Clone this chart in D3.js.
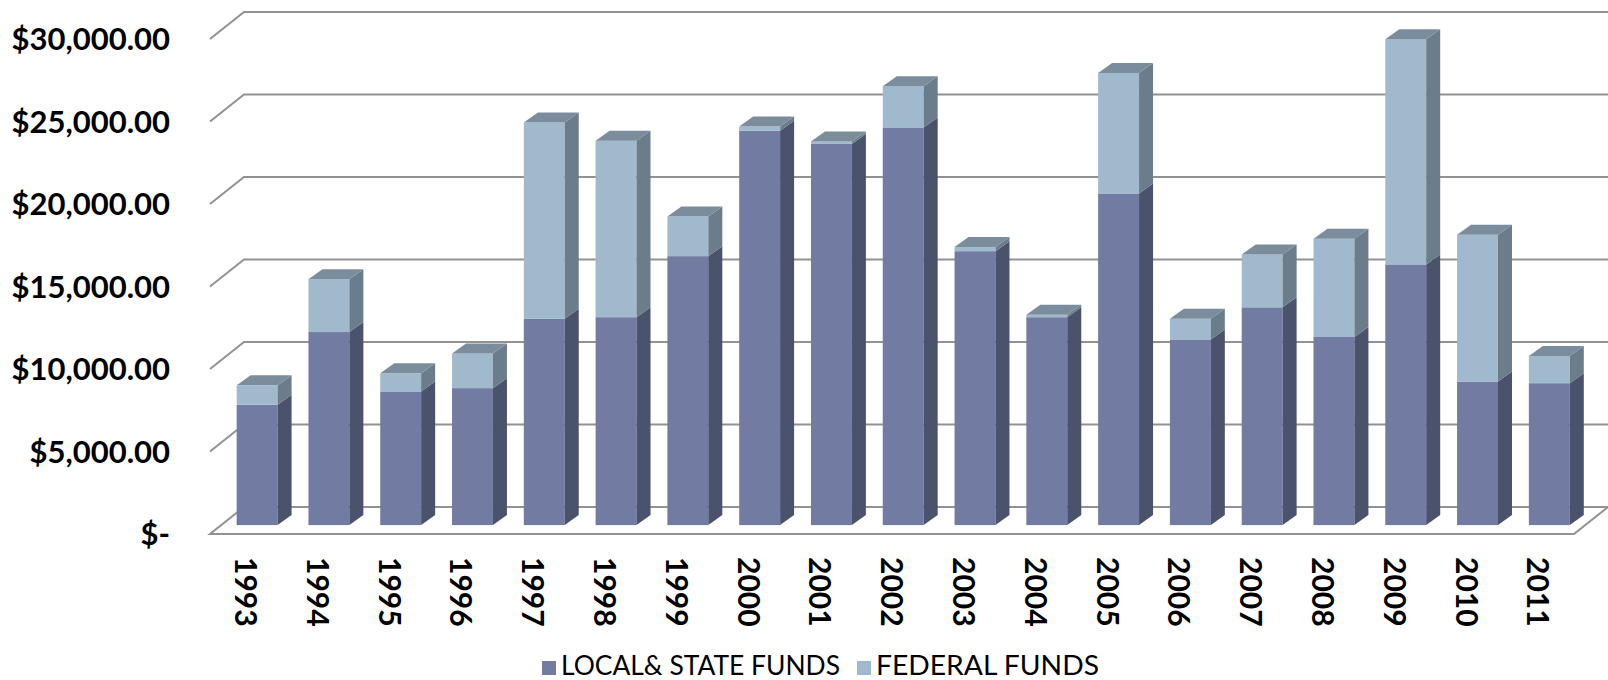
<!DOCTYPE html>
<html>
<head>
<meta charset="utf-8">
<script src="https://cdn.jsdelivr.net/npm/d3@7"></script>
<style>
  html, body { margin: 0; padding: 0; background: #fff; }
  svg { display: block; }
</style>
</head>
<body>
<svg id="chart" width="1608" height="680"></svg>
<script>
const years = ['1993','1994','1995','1996','1997','1998','1999','2000','2001','2002','2003','2004','2005','2006','2007','2008','2009','2010','2011'];
const localFunds = [7300, 11700, 8100, 8300, 12500, 12600, 16300, 23900, 23100, 24100, 16600, 12600, 20100, 11250, 13200, 11400, 15800, 8700, 8600];
const federalFunds = [1170, 3200, 1100, 2100, 11900, 10700, 2400, 250, 150, 2500, 250, 150, 7300, 1250, 3200, 5950, 13650, 8900, 1650];
const yTicks = [0, 5000, 10000, 15000, 20000, 25000, 30000];
const seriesNames = ['LOCAL& STATE FUNDS', 'FEDERAL FUNDS'];

const svg = d3.select('#chart');

// 3D geometry
const floorFrontY = 534, DX = 34, DY = 27;
const barDepthFrac = 0.33, barDX = 14, barDY = 10;
const h = d3.scaleLinear().domain([0, 30000]).range([0, 495]);
const x = d3.scaleBand().domain(years).range([210, 1574]).paddingInner(0.43).paddingOuter(0.215);
const bw = x.bandwidth();

const colors = {
  localFront: '#727BA1', localSide: '#4B526B',
  fedFront: '#A1B9CD', fedSide: '#6B7D8A',
  top: '#7B8D9C', grid: '#929292'
};

const backY = v => floorFrontY - DY - h(v);
const frontY = v => floorFrontY - h(v);

// floor
const floorL = x.range()[0], floorR = x.range()[1];
svg.append('path')
  .attr('d', `M${floorL},${floorFrontY} L${floorR},${floorFrontY} L${floorR + DX},${floorFrontY - DY} L${floorL + DX},${floorFrontY - DY} Z`)
  .attr('fill', '#fff').attr('stroke', colors.grid).attr('stroke-width', 2);

// back wall gridlines
const grid = svg.append('g');
yTicks.filter(t => t > 0).forEach(t => {
  grid.append('path')
    .attr('d', `M${floorL},${frontY(t)} L${floorL + DX},${backY(t)} L${floorR + DX + 40},${backY(t)}`)
    .attr('fill', 'none').attr('stroke', colors.grid).attr('stroke-width', 2);
});

// y labels
const fmt = v => v === 0 ? '$-' : '$' + d3.format(',.2f')(v);
svg.append('g').selectAll('text').data(yTicks).join('text')
  .attr('x', 170).attr('y', d => frontY(d)).attr('dy', '0.36em')
  .attr('text-anchor', 'end')
  .attr('font-family', 'Lato, "DejaVu Sans", sans-serif')
  .attr('font-weight', 700).attr('font-size', 31)
  .attr('fill', '#000')
  .text(fmt);

// bars
const base = floorFrontY - DY * barDepthFrac;
const xOff = DX * barDepthFrac;
const bars = svg.append('g');
function segment(xl, v0, v1, front, side) {
  const xr = xl + bw;
  const y0 = base - h(v0), y1 = base - h(v1);
  bars.append('rect').attr('x', xl).attr('y', y1).attr('width', bw).attr('height', Math.max(0, y0 - y1)).attr('fill', front);
  bars.append('path')
    .attr('d', `M${xr},${y0} L${xr + barDX},${y0 - barDY} L${xr + barDX},${y1 - barDY} L${xr},${y1} Z`)
    .attr('fill', side);
}
years.forEach((yr, i) => {
  const xl = x(yr) + xOff;
  const l = localFunds[i], f = federalFunds[i], t = l + f;
  segment(xl, 0, l, colors.localFront, colors.localSide);
  segment(xl, l, t, colors.fedFront, colors.fedSide);
  const yt = base - h(t);
  bars.append('path')
    .attr('d', `M${xl},${yt} L${xl + barDX},${yt - barDY} L${xl + bw + barDX},${yt - barDY} L${xl + bw},${yt} Z`)
    .attr('fill', colors.top);
});

// x labels (rotated)
svg.append('g').selectAll('text').data(years).join('text')
  .attr('transform', d => `translate(${x(d) + bw / 2},557) rotate(90)`)
  .attr('dy', '0.36em')
  .attr('font-family', 'Lato, "DejaVu Sans", sans-serif')
  .attr('font-weight', 700).attr('font-size', 30)
  .attr('fill', '#000')
  .text(d => d);

// legend
const legendX = [542, 857];
const legendLen = [279, 223];
const legendColors = [colors.localFront, colors.fedFront];
const lg = svg.append('g');
seriesNames.forEach((name, i) => {
  lg.append('rect').attr('x', legendX[i]).attr('y', 661).attr('width', 14).attr('height', 14).attr('fill', legendColors[i]);
  lg.append('text').attr('x', legendX[i] + 19).attr('y', 675)
    .attr('font-family', 'Lato, "DejaVu Sans", sans-serif')
    .attr('font-size', 26).attr('fill', '#000')
    .attr('textLength', legendLen[i]).attr('lengthAdjust', 'spacingAndGlyphs')
    .text(name);
});
</script>
</body>
</html>
